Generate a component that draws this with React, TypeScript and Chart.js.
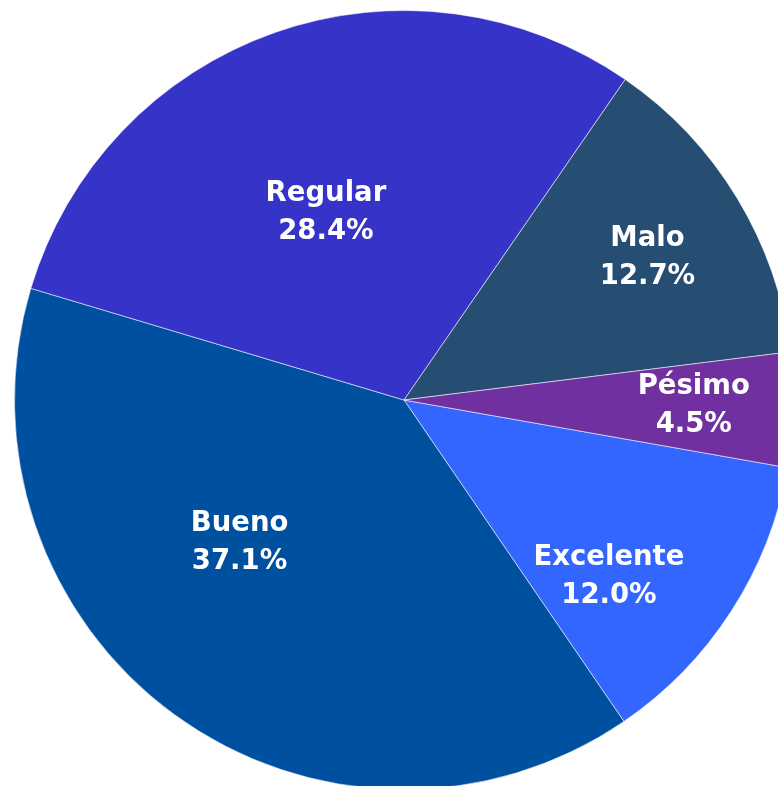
import React, { useEffect, useRef } from "react";
import { Chart, registerables } from "chart.js";

Chart.register(...registerables);

// ---- data ----
const categories = ["Excelente", "Bueno", "Regular", "Malo", "Pésimo"];
const percentages = [12.0, 37.1, 28.4, 12.7, 4.5];

// ---- styles ----
const sliceColors = ["#3366FF", "#0050A0", "#3633C8", "#264D72", "#7030A0"];
// label placement relative to each slice (angle shift in degrees, fraction of radius)
const labelAngleShift = [7.5, 13.4, -3.0, 0.4, -0.8];
const labelRadiusFrac = [0.69, 0.555, 0.527, 0.728, 0.744];
const FONT_SIZE = 27.5;
const LINE_HEIGHT = 38;

const sliceLabels = {
  id: "sliceLabels",
  afterDatasetsDraw(chart: any) {
    const ctx = chart.ctx;
    const meta = chart.getDatasetMeta(0);
    ctx.save();
    ctx.fillStyle = "#ffffff";
    ctx.textAlign = "center";
    ctx.textBaseline = "alphabetic";
    ctx.font = `bold ${FONT_SIZE}px "DejaVu Sans", Verdana, sans-serif`;
    meta.data.forEach((arc: any, i: number) => {
      const p = arc.getProps(["x", "y", "startAngle", "endAngle", "outerRadius"], true);
      const mid = (p.startAngle + p.endAngle) / 2 + (labelAngleShift[i] * Math.PI) / 180;
      const r = p.outerRadius * labelRadiusFrac[i];
      const cx = p.x + Math.cos(mid) * r;
      const cy = p.y + Math.sin(mid) * r;
      const lines = [categories[i], percentages[i].toFixed(1) + "%"];
      const capHalf = FONT_SIZE * 0.36;
      lines.forEach((t, j) => {
        const lineCenter = cy + (j - (lines.length - 1) / 2) * LINE_HEIGHT;
        ctx.fillText(t, cx, lineCenter + capHalf);
      });
    });
    ctx.restore();
  },
};

export default function App() {
  const ref = useRef<HTMLCanvasElement | null>(null);
  useEffect(() => {
    if (!ref.current) return;
    const chart = new Chart(ref.current, {
      type: "pie",
      data: {
        labels: categories,
        datasets: [
          {
            data: percentages,
            backgroundColor: sliceColors,
            borderColor: "rgba(255,255,255,0.55)",
            borderWidth: 1,
          },
        ],
      },
      options: {
        responsive: false,
        animation: false,
        rotation: 100,
        layout: { padding: 0 },
        plugins: {
          legend: { display: false },
          tooltip: { enabled: false },
        },
      },
      plugins: [sliceLabels],
    });
    return () => chart.destroy();
  }, []);

  return (
    <div
      style={{
        position: "fixed",
        left: 0,
        top: 0,
        width: 778,
        height: 786,
        overflow: "hidden",
        background: "#ffffff",
      }}
    >
      <canvas
        ref={ref}
        width={780}
        height={780}
        style={{ position: "absolute", left: 14, top: 10, width: 780, height: 780 }}
      />
    </div>
  );
}
